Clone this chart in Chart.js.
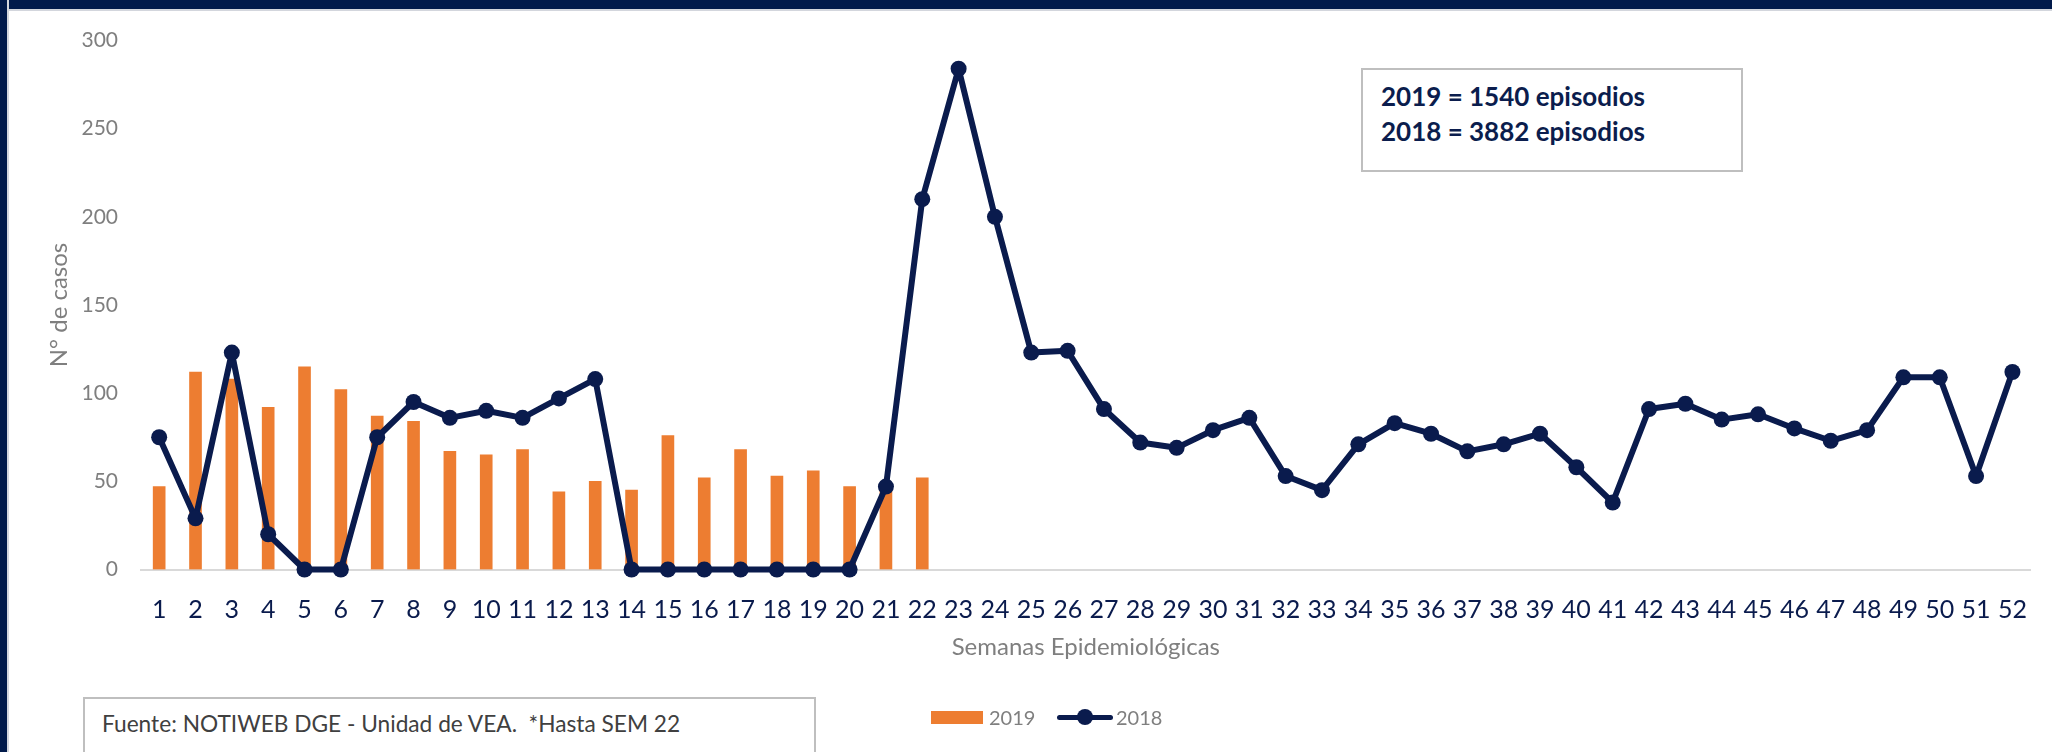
<!DOCTYPE html>
<html>
<head>
<meta charset="utf-8">
<script src="https://cdn.jsdelivr.net/npm/chart.js@4.4.1/dist/chart.umd.min.js"></script>
<style>
  body { margin: 0; width: 2052px; height: 752px; overflow: hidden; background: #fff; position: relative; font-family: Lato, "Open Sans", sans-serif; }
  #topbar { position: absolute; left: 0; top: 0; width: 2052px; height: 9px; background: #011a4b; border-bottom: 2px solid #d3d6dd; }
  #leftbar { position: absolute; left: 0; top: 0; width: 7px; height: 752px; background: #011a4b; border-right: 2px solid #d3d6dd; }
  #wrap { position: absolute; left: 0; top: 0; width: 2052px; height: 752px; }
  #totals { position: absolute; left: 1361px; top: 68px; width: 382px; height: 104px; border: 2px solid #bfbfbf; background: #fff; box-sizing: border-box;
            color: #0b1d4d; font-weight: bold; font-size: 26px; line-height: 35px; padding: 9px 0 0 18px; }
  #source { position: absolute; left: 83px; top: 697px; width: 733px; height: 90px; border: 2px solid #bfbfbf; box-sizing: border-box;
            color: #404040; font-size: 22.7px; line-height: 26px; padding: 12px 0 0 17px; white-space: pre; background: #fff; }
  #legend { position: absolute; top: 704px; left: 931px; height: 26px; font-size: 20px; color: #7f7f7f; }
  .sw-bar { position: absolute; left: 0; top: 7px; width: 52px; height: 13px; background: #ed7d31; }
  .sw-line { position: absolute; left: 126px; top: 11px; width: 56px; height: 5px; background: #0a1b4d; border-radius: 3px; }
  .sw-dot { position: absolute; left: 146px; top: 5px; width: 16px; height: 16px; border-radius: 50%; background: #0a1b4d; }
  .lg-text { position: absolute; top: 0; line-height: 26px; }
</style>
</head>
<body>
<div id="topbar"></div>
<div id="leftbar"></div>
<div id="wrap"><canvas id="chart" width="2052" height="752"></canvas></div>
<div id="totals">2019 = 1540 episodios<br>2018 = 3882 episodios</div>
<div id="source">Fuente: NOTIWEB DGE - Unidad de VEA.  *Hasta SEM 22</div>
<div id="legend">
  <div class="sw-bar"></div><span class="lg-text" style="left:58px">2019</span>
  <div class="sw-line"></div><div class="sw-dot"></div><span class="lg-text" style="left:185px">2018</span>
</div>
<script>
// semanas epidemiologicas 1..52
var weeks = [];
for (var w = 1; w <= 52; w++) weeks.push(String(w));

// casos 2019 (hasta SEM 22)
var cases2019 = [47, 112, 108, 92, 115, 102, 87, 84, 67, 65, 68, 44, 50, 45, 76, 52, 68, 53, 56, 47, 48, 52];

// casos 2018
var cases2018 = [75, 29, 123, 20, 0, 0, 75, 95, 86, 90, 86, 97, 108, 0, 0, 0, 0, 0, 0, 0,
                 47, 210, 284, 200, 123, 124, 91, 72, 69, 79, 86, 53, 45, 71, 83, 77, 67, 71, 77, 58,
                 38, 91, 94, 85, 88, 80, 73, 79, 109, 109, 53, 112];

var yTicks = [0, 50, 100, 150, 200, 250, 300];

var navy = '#0a1b4d';
var orange = '#ed7d31';

var ctx = document.getElementById('chart').getContext('2d');
var chart = new Chart(ctx, {
    type: 'bar',
    data: {
        labels: weeks,
        datasets: [{
            type: 'line',
            label: '2018',
            data: cases2018,
            borderColor: navy,
            backgroundColor: navy,
            borderWidth: 6,
            borderJoinStyle: 'round',
            pointRadius: 8,
            pointBorderWidth: 0,
            pointBackgroundColor: navy,
            tension: 0,
            clip: false,
            order: 0
        }, {
            type: 'bar',
            label: '2019',
            data: cases2019,
            backgroundColor: orange,
            barThickness: 12,
            order: 1
        }]
    },
    options: {
        responsive: false,
        animation: false,
        layout: { padding: { left: 10, right: 7, top: 40.5, bottom: 82.5 } },
        plugins: { legend: { display: false }, tooltip: { enabled: false } },
        scales: {
            x: {
                grid: { display: false, drawTicks: false },
                border: { display: true, color: '#d9d9d9', width: 2 },
                ticks: { padding: 25, maxRotation: 0, autoSkip: false, color: navy, font: { family: 'Lato', size: 25 } },
                title: { display: true, text: 'Semanas Epidemiológicas', color: '#7f7f7f',
                         font: { family: 'Lato', size: 24 }, padding: { top: 0, bottom: 7.5 } },
                afterFit: function (s) { s.height = 100; }
            },
            y: {
                min: 0, max: 300,
                afterBuildTicks: function (s) { s.ticks = yTicks.map(function (v) { return { value: v }; }); },
                grid: { display: false, drawTicks: false },
                border: { display: false },
                ticks: { padding: 23, color: '#7f7f7f', font: { family: 'Lato', size: 21 } },
                title: { display: true, text: 'N° de casos', color: '#7f7f7f',
                         font: { family: 'Lato', size: 24 }, padding: { top: 35, bottom: 0 } },
                afterFit: function (s) { s.width = 131; }
            }
        }
    }
});
</script>
</body>
</html>
